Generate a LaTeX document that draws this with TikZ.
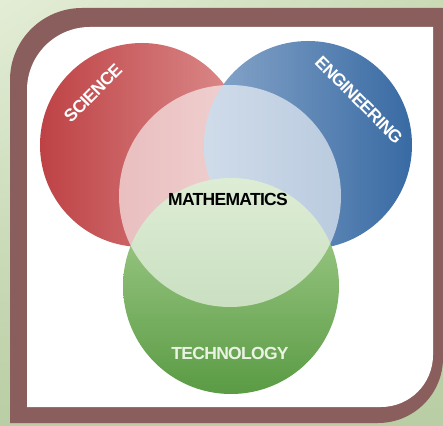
\documentclass[tikz,border=0pt]{standalone}
\usepackage{fontspec}
\usetikzlibrary{shadings}
\setmainfont{Liberation Sans}
\newfontfamily\tightsans[LetterSpace=-4, BoldFont={Liberation Sans Bold}]{Liberation Sans}
\definecolor{bgLight}{HTML}{E3EDD6}
\definecolor{bgMid}{HTML}{C9DAB5}
\definecolor{bgDark}{HTML}{B9CEA4}
\definecolor{frameBrown}{HTML}{8A5E5C}
\definecolor{sciDark}{HTML}{BE4245}
\definecolor{sciLight}{HTML}{DC8D8D}
\definecolor{engLight}{HTML}{89A7CA}
\definecolor{engDark}{HTML}{386AA3}
\definecolor{techLight}{HTML}{ACD396}
\definecolor{techDark}{HTML}{5A9B44}
\definecolor{techText}{HTML}{EAF3E3}
\begin{document}
\begin{tikzpicture}[x=1pt,y=1pt,
  disc/.style={circle, inner sep=0pt, minimum size=#1},
  caption/.style={font=\tightsans\fontsize{17.5}{18}\selectfont\bfseries, inner sep=0pt}]
\useasboundingbox (0,0) rectangle (443,425);

% backdrop
\shade[upper left=bgLight, upper right=bgMid, lower left=bgDark, lower right=bgDark]
  (0,0) rectangle (443,425);

% brown frame with two rounded corners
\fill[frameBrown] (10,2) -- (10,345) arc[start angle=180, end angle=90, radius=72]
  -- (443,417) -- (443,67) arc[start angle=0, end angle=-90, radius=65] -- cycle;

% white card inside the frame
\fill[white] (27,18) -- (27,335) arc[start angle=180, end angle=90, radius=63]
  -- (433,398) -- (433,70) arc[start angle=0, end angle=-90, radius=52] -- cycle;

% the three discipline circles
\node[disc=204, left color=sciDark, right color=sciLight] (science) at (142,280) {};
\node[disc=208, left color=engLight, right color=engDark] (engineering) at (308,280) {};
\node[disc=216, top color=techLight, bottom color=techDark] (technology) at (231,139) {};

% translucent mathematics circle
\node[disc=222, fill=white, fill opacity=0.6] (mathematics) at (230,229) {};

% labels
\node[caption, text=white, rotate=45] (scilabel) at (93,332) {SCIENCE};
\node[caption, text=white, rotate=-45] (englabel) at (359,325) {ENGINEERING};
\node[caption, text=techText] (techlabel) at (230,72) {TECHNOLOGY};
\node[caption, text=black] (mathlabel) at (228,226) {MATHEMATICS};
\end{tikzpicture}
\end{document}
